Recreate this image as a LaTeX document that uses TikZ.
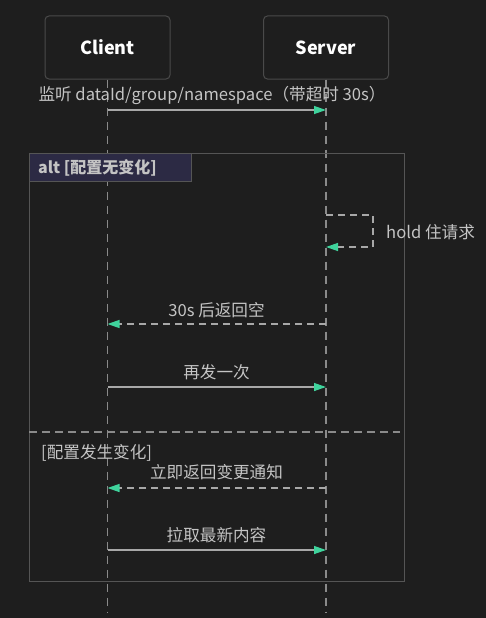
\documentclass[tikz,border=0pt]{standalone}
\usepackage{fontspec}
\setmainfont{Noto Sans CJK SC}
\usetikzlibrary{arrows.meta}
\definecolor{bg}{HTML}{1E1E1E}
\definecolor{boxline}{HTML}{4A4A4A}
\definecolor{frameline}{HTML}{555555}
\definecolor{lifec}{HTML}{8A8A8A}
\definecolor{msgc}{HTML}{A8A8A8}
\definecolor{txtc}{HTML}{C4C4C4}
\definecolor{tipc}{HTML}{3FD39C}
\definecolor{labfill}{HTML}{2C2A44}
\tikzset{
  actor/.style={draw=boxline, line width=1pt, rounded corners=4pt, fill=bg, minimum width=125pt, minimum height=63pt, text=white, font=\fontsize{18}{21}\selectfont\bfseries, inner sep=0pt},
  lifeline/.style={draw=lifec, line width=1.3pt, dash pattern=on 8pt off 6pt},
  msg/.style={draw=msgc, line width=1.3pt, -{Triangle[length=12pt,width=8pt,color=tipc]}},
  reply/.style={msg, dash pattern=on 7pt off 5pt},
  msgtext/.style={text=txtc, font=\fontsize{16.6}{19}\selectfont, inner sep=0pt},
  frame/.style={draw=frameline, line width=1pt},
}
\begin{document}
\begin{tikzpicture}[x=1pt,y=-1pt]
\fill[bg] (0,0) rectangle (486,618);
\useasboundingbox (0,0) rectangle (486,618);
% actors
\node[actor] (client) at (107.5,47.5) {Client};
\node[actor] (server) at (326,47.5) {Server};
\coordinate (cend) at (107.5,612);
\coordinate (send) at (326,612);
\draw[lifeline] (client.south) -- (cend);
\draw[lifeline] (server.south) -- (send);
% message 1
\coordinate (c1) at (107.5,110); \coordinate (s1) at (326,110);
\node[msgtext] (t1) at (212,95) {监听 dataId/group/namespace（带超时 30s）};
\draw[msg] (c1) -- (s1);
% alt frame
\node[frame, minimum width=375pt, minimum height=428pt, inner sep=0pt, anchor=north west] (altframe) at (29,153) {};
\node[frame, fill=labfill, minimum width=162pt, minimum height=28pt, inner sep=0pt, anchor=north west] (altlab) at (29,153) {};
\node[msgtext, anchor=west, text=txtc, font=\fontsize{16}{19}\selectfont\bfseries] (altt) at (38,167.5) {alt [配置无变化]};
% self message
\coordinate (s2) at (326,215); \coordinate (s2r) at (373,215);
\coordinate (s3r) at (373,247); \coordinate (s3) at (326,247);
\draw[reply] (s2) -- (s2r) -- (s3r) -- (s3);
\node[msgtext, anchor=west] (t2) at (386,232) {hold 住请求};
% 30s reply
\coordinate (s4) at (326,324); \coordinate (c4) at (107.5,324);
\node[msgtext] (t3) at (216.5,310) {30s 后返回空};
\draw[reply] (s4) -- (c4);
% resend
\coordinate (c5) at (107.5,387); \coordinate (s5) at (326,387);
\node[msgtext] (t4) at (216.5,372) {再发一次};
\draw[msg] (c5) -- (s5);
% divider
\coordinate (d1) at (29,432); \coordinate (d2) at (400,432);
\draw[draw=lifec, line width=1.3pt, dash pattern=on 8pt off 5pt] (d1) -- (d2);
\node[msgtext, anchor=west] (t5) at (41,453) {[配置发生变化]};
% notify
\coordinate (s6) at (326,488); \coordinate (c6) at (107.5,488);
\node[msgtext] (t6) at (216.5,472) {立即返回变更通知};
\draw[reply] (s6) -- (c6);
% pull
\coordinate (c7) at (107.5,550); \coordinate (s7) at (326,550);
\node[msgtext] (t7) at (216.5,535) {拉取最新内容};
\draw[msg] (c7) -- (s7);
\end{tikzpicture}
\end{document}
